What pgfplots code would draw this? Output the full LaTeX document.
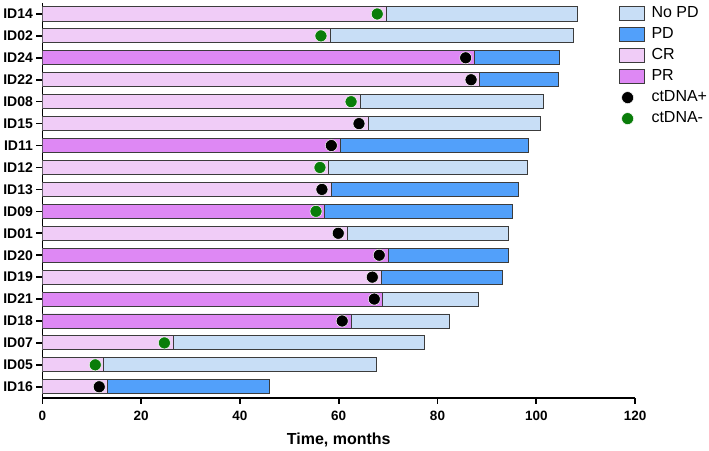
\documentclass[border=0pt]{standalone}
\usepackage{pgfplots}
\pgfplotsset{compat=1.18}
\usepackage{fontspec}
\setmainfont{Liberation Sans}
\definecolor{nopd}{RGB}{200,222,246}
\definecolor{pd}{RGB}{82,160,250}
\definecolor{cr}{RGB}{240,204,247}
\definecolor{pr}{RGB}{222,136,244}
\definecolor{edge}{RGB}{60,60,60}
\definecolor{dotgreen}{RGB}{10,125,10}
\pgfplotsset{
  mybar/.style={xbar, bar width=0.64, bar shift=0pt, draw=edge, line width=0.9pt,
    legend image code/.code={\draw[##1, line width=0.9pt] (0pt,-7pt) rectangle (25pt,7pt);}},
}
\begin{document}
\begin{tikzpicture}
\begin{axis}[
  scale only axis,
  width=593pt, height=395pt,
  xmin=0, xmax=120, ymin=-0.5, ymax=17.5,
  axis x line*=bottom, axis y line*=left,
  axis line style={line width=1.6pt, -},
  tick style={line width=1.6pt, black},
  tick align=outside, major tick length=6pt,
  xtick={0,20,...,120},
  ytick={0,...,17},
  yticklabels={ID16,ID05,ID07,ID18,ID21,ID19,ID20,ID01,ID09,ID13,ID12,ID11,ID15,ID08,ID22,ID24,ID02,ID14},
  /pgf/number format/assume math mode=true,
  yticklabel style={font=\bfseries\fontsize{14}{14}\selectfont},
  xticklabel style={font=\bfseries\fontsize{13.5}{13.5}\selectfont, yshift=-4pt},
  xlabel={Time, months},
  xlabel style={font=\bfseries\fontsize{16}{16}\selectfont, yshift=-5pt},
  legend style={at={(0.972,1.0)}, anchor=north west, draw=none, fill=none, inner sep=0pt,
    font=\fontsize{16}{16}\selectfont, row sep=0pt, legend cell align=left,
    nodes={text height=12pt, text depth=5pt, inner xsep=1pt},
    /tikz/every odd column/.append style={column sep=6pt}},
]
% full-length bars (progression status)
\addplot[mybar, fill=nopd] coordinates {
 (108.3,17) (107.5,16) (101.5,13) (100.9,12) (98.2,10) (94.3,7) (88.3,4) (82.5,3) (77.4,2) (67.7,1)};
\addlegendentry{No PD}
\addplot[mybar, fill=pd] coordinates {
 (104.6,15) (104.4,14) (98.5,11) (96.3,9) (95.1,8) (94.3,6) (93.1,5) (46.0,0)};
\addlegendentry{PD}
% response bars
\addplot[mybar, fill=cr] coordinates {
 (69.7,17) (58.4,16) (88.5,14) (64.4,13) (66.0,12) (58.0,10) (58.5,9) (61.7,7) (68.6,5) (26.6,2) (12.4,1) (13.2,0)};
\addlegendentry{CR}
\addplot[mybar, fill=pr] coordinates {
 (87.4,15) (60.3,11) (57.2,8) (70.0,6) (68.9,4) (62.5,3)};
\addlegendentry{PR}
% ctDNA status
\addplot[only marks, mark=*, mark size=6pt, mark options={fill=black, draw=white, line width=0.5pt}] coordinates {
 (85.7,15) (86.8,14) (64.1,12) (58.5,11) (56.6,9) (59.9,7) (68.2,6) (66.8,5) (67.2,4) (60.7,3) (11.5,0)};
\addlegendentry{ctDNA+}
\addplot[only marks, mark=*, mark size=6pt, mark options={fill=dotgreen, draw=white, line width=0.5pt}] coordinates {
 (67.8,17) (56.4,16) (62.5,13) (56.2,10) (55.4,8) (24.7,2) (10.7,1)};
\addlegendentry{ctDNA-}
\end{axis}
\path ([xshift=-42pt,yshift=-50pt]current axis.south west) rectangle ([xshift=74pt,yshift=3pt]current axis.north east);
\end{tikzpicture}
\end{document}
